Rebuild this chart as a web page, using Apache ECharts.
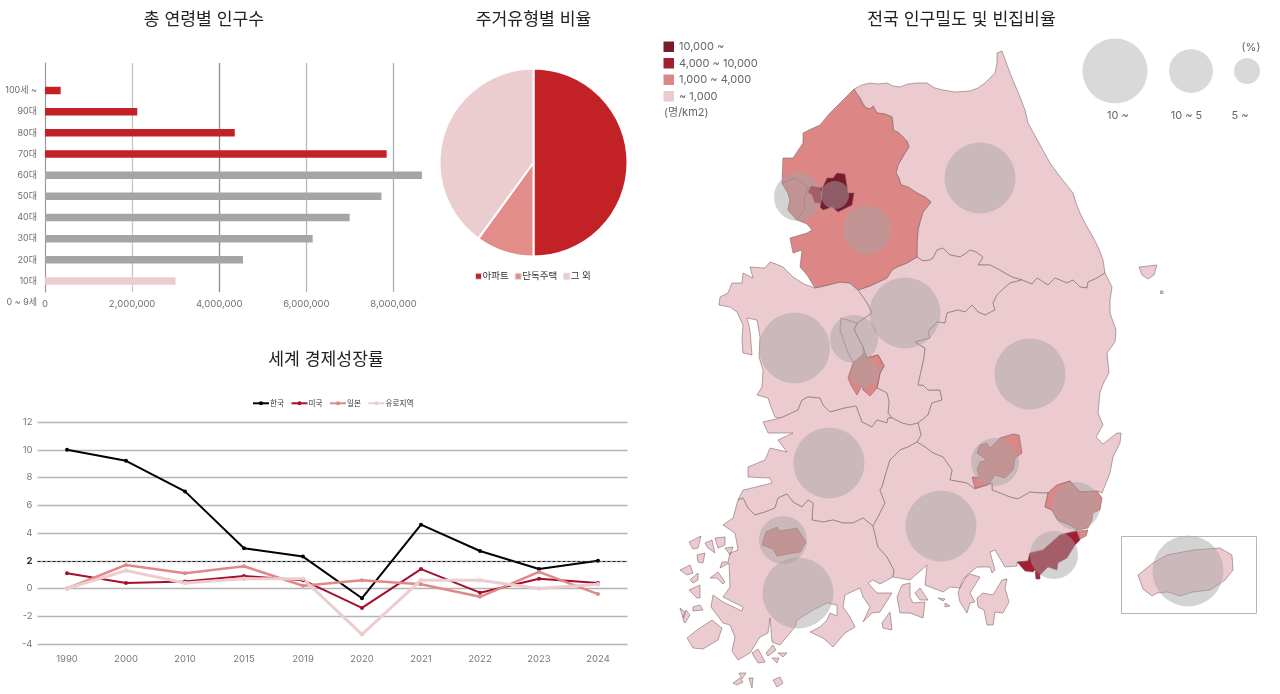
<!DOCTYPE html>
<html><head><meta charset="utf-8">
<style>html,body{margin:0;padding:0;background:#fff}#c{width:1280px;height:694px}</style>
<script src="https://cdn.jsdelivr.net/npm/echarts@6/dist/echarts.min.js"></script>
</head><body><div id="c"></div>
<script>
const FONT = 'Inter, "Noto Sans CJK KR", sans-serif';

// ---- age population ----
const ageLabels = ['', '100세 ~', '90대', '80대', '70대', '60대', '50대', '40대', '30대', '20대', '10대', '0 ~ 9세'];
const ageValues = [null, 360000, 2120000, 4360000, 7850000, 8660000, 7730000, 7000000, 6150000, 4550000, 3000000, null];
const ageGroups = ['', 'old', 'old', 'old', 'old', 'mid', 'mid', 'mid', 'mid', 'mid', 'young', ''];
const ageTicks = [0, 2000000, 4000000, 6000000, 8000000];

// ---- housing ----
const housingNames = ['아파트', '단독주택', '그 외'];
const housingValues = [50, 10, 40];

// ---- growth ----
const growthYears = ['1990', '2000', '2010', '2015', '2019', '2020', '2021', '2022', '2023', '2024'];
const growthKorea = [10, 9.2, 7, 2.9, 2.3, -0.7, 4.6, 2.7, 1.4, 2.0];
const growthUS = [1.1, 0.4, 0.5, 0.9, 0.6, -1.4, 1.4, -0.3, 0.7, 0.4];
const growthJapan = [0, 1.7, 1.1, 1.6, 0.2, 0.6, 0.3, -0.6, 1.2, -0.4];
const growthEuro = [0, 1.3, 0.4, 0.7, 0.7, -3.3, 0.6, 0.6, 0, 0.3];

// ---- map: shared border lines (map units) ----
const bGyeonggiGangwon = [[854,89],[857,94],[860,98],[863,104],[866,108],[870,109],[873,106],[877,113],[885,114],[892,117],[893,125],[893,130],[899,133],[903,137],[907,141],[909,147],[905,153],[898,165],[896,173],[899,178],[901,185],[908,187],[917,193],[925,197],[931,202],[923,212],[920,222],[918,230],[917,245],[917,257]];
const bGangwonNorth = [[854,89],[862,85],[870,83],[878,84],[887,83],[893,86],[900,87],[908,84],[917,83],[927,83],[935,88],[943,90],[955,92],[970,91],[978,88],[985,83],[990,78],[995,73],[997,63],[997,53],[1002,51],[1006,62],[1010,73],[1015,85],[1020,97],[1025,110],[1028,123],[1039,143],[1050,163],[1061,178],[1073,193],[1076,203],[1080,213],[1086,225],[1093,237],[1099,249],[1103,260],[1105,273]];
const bGangwonSouthE = [[1105,273],[1095,279],[1088,282],[1087,288],[1080,287],[1073,280],[1067,283],[1055,278],[1048,285],[1037,278],[1032,284],[1022,280]];
const bGangwonSouthW = [[1022,280],[1012,277],[1003,272],[996,268],[990,265],[978,265],[983,257],[976,252],[970,250],[965,254],[960,257],[950,255],[943,248],[937,250],[933,258],[930,260],[923,261],[917,257]];
const bChungbukGyeongbuk = [[1022,280],[1010,283],[1003,289],[997,295],[993,303],[995,310],[985,315],[978,312],[972,305],[965,312],[958,310],[947,313],[945,323],[937,322],[928,332],[930,338],[915,342],[925,348],[924,358],[922,367],[918,385],[923,385],[928,390],[940,390],[942,400],[932,403],[928,415],[918,423]];
const bChungbukJeonbuk = [[918,423],[910,425],[902,423],[892,418]];
const bChungbukWest = [[892,418],[888,413],[889,402],[887,393],[877,388],[880,373],[884,366],[878,355],[867,358],[865,353],[863,347],[854,330],[857,323],[872,313],[867,303],[858,290]];
const bGyeonggiChungbuk = [[858,290],[870,286],[887,278],[892,270],[897,267],[907,263],[917,257]];
const bGyeonggiChungnam = [[815,288],[828,285],[840,282],[850,283],[858,290]];
const bChungnamJeonbuk = [[892,418],[888,418],[887,423],[877,420],[872,427],[862,422],[859,414],[856,406],[845,408],[830,412],[823,405],[820,398],[808,397],[802,400],[798,410],[783,417],[780,418]];
const cChungnam = [[780,418],[775,417],[771,407],[768,398],[757,395],[762,387],[763,370],[759,357],[760,337],[757,320],[747,318],[750,330],[752,355],[743,353],[742,340],[743,325],[737,312],[730,307],[719,305],[720,297],[728,293],[732,283],[742,283],[743,273],[753,278],[750,267],[765,268],[770,262],[776,264],[783,267],[788,272],[793,277],[804,284],[815,288]];
const cGyeonggi = [[815,288],[807,275],[800,267],[802,250],[793,253],[790,238],[807,233],[812,230],[807,224],[797,220],[788,210],[790,200],[788,193],[782,183],[783,158],[793,158],[803,143],[803,133],[811,129],[820,125],[830,113],[840,103],[854,89]];
const cGyeongbuk = [[1105,273],[1112,287],[1110,300],[1110,313],[1116,330],[1115,342],[1107,353],[1109,373],[1104,382],[1100,392],[1098,413],[1103,425],[1096,437],[1103,444],[1117,433],[1121,433],[1120,443],[1113,457],[1110,473],[1102,493]];
const bGyeongbukSouth = [[1102,493],[1097,491],[1080,492],[1070,481],[1057,485],[1048,493]];
const bGyeongbukGyeongnam = [[1048,493],[1040,493],[1030,492],[1018,499],[1010,497],[992,490],[992,483],[975,489],[967,483],[950,480],[952,470],[943,457],[933,453],[925,447],[917,442]];
const bTriJunction = [[917,442],[921,435],[918,423]];
const bJeonbukGyeongnam = [[917,442],[908,447],[900,450],[890,460],[886,473],[882,487],[880,490],[885,503],[879,515],[873,526]];
const bJeonbukJeonnam = [[873,526],[863,518],[853,523],[843,523],[833,520],[823,522],[812,520],[813,503],[808,500],[802,507],[793,502],[787,494],[778,498],[775,508],[765,512],[755,515],[748,508],[743,498],[738,500]];
const cJeonbuk = [[738,500],[743,490],[748,489],[772,483],[770,478],[748,477],[748,467],[765,460],[770,448],[787,452],[778,440],[793,433],[768,433],[763,422],[780,418]];
const bJeonnamGyeongnam = [[873,526],[878,547],[887,557],[894,570],[893,577]];
const cJeonnam = [[738,500],[733,518],[723,525],[735,533],[738,550],[730,553],[728,562],[722,562],[720,568],[729,563],[730,587],[723,597],[743,607],[742,611],[723,602],[713,595],[711,607],[723,623],[730,625],[735,637],[732,651],[738,660],[750,653],[760,637],[768,633],[770,618],[772,642],[780,645],[795,627],[797,620],[813,610],[827,603],[837,605],[837,616],[830,613],[827,620],[820,627],[810,632],[823,638],[833,647],[845,633],[855,627],[850,617],[843,607],[845,595],[860,588],[863,597],[870,607],[863,622],[872,613],[880,612],[892,593],[877,593],[868,583],[873,580],[880,584],[893,577]];
const cGyeongnam = [[893,577],[910,580],[927,565],[925,585],[943,592],[950,587],[960,588],[967,575],[977,567],[990,567],[992,573],[995,570],[990,552],[995,550],[1005,567],[1017,566],[1017,562],[1028,561],[1030,553],[1043,550],[1060,535],[1068,533],[1078,530],[1070,525],[1058,520],[1052,510],[1045,507],[1048,493]];

const islandsJeonnam = [
  [[689,542],[701,536],[698,548],[693,549]],[[705,543],[712,540],[713,545],[715,553],[708,548]],[[715,538],[725,537],[725,545],[718,548]],
  [[725,548],[733,547],[730,555]],[[697,555],[705,553],[703,563],[698,562]],[[680,570],[690,565],[693,573],[687,575]],
  [[690,580],[698,573],[698,580],[693,583]],[[689,590],[700,585],[700,598],[697,598]],[[693,607],[700,605],[703,610],[693,611]],
  [[710,578],[718,572],[725,582],[723,584],[717,578]],[[680,608],[685,612],[683,618]],[[686,610],[690,615],[685,623],[683,620]],
  [[687,638],[697,630],[712,620],[722,628],[718,640],[703,649],[693,648]],[[752,653],[758,649],[765,662],[758,663]],
  [[766,653],[773,645],[776,650],[768,656]],[[778,653],[787,653],[783,657]],[[772,658],[779,658],[777,663]],
  [[733,683],[740,678],[743,682],[737,685]],[[739,673],[746,673],[742,679]],[[749,678],[753,678],[752,688]],[[773,680],[780,677],[783,683],[777,687]]
];
const islandsGyeongnam = [
  [[897,597],[902,585],[910,583],[910,597],[913,603],[925,602],[923,618],[910,613],[900,613]],
  [[915,593],[920,588],[928,600],[920,600]],[[882,623],[890,612],[892,630],[883,628]],
  [[938,598],[945,599],[943,601]],[[945,603],[950,606],[945,607]],
  [[963,579],[970,574],[980,577],[970,593],[975,602],[970,603],[967,613],[960,602],[958,593]],
  [[977,598],[983,593],[993,595],[1002,580],[1007,579],[1005,588],[1009,602],[1003,613],[995,612],[993,625],[987,625],[984,610],[978,607]]
];
const islandsGyeongbuk = [[[1139,267],[1157,265],[1154,275],[1148,279],[1142,275]],[[1160.5,291],[1163,291],[1163,293.5],[1160.5,293.5]]];
const cJeju = [[1138,575],[1153,563],[1167,555],[1193,550],[1220,548],[1232,555],[1233,570],[1225,580],[1210,590],[1193,592],[1180,596],[1168,592],[1157,593],[1152,596],[1143,589]];
const cSeoul = [[820,207],[823,187],[827,178],[833,178],[837,173],[845,174],[848,193],[854,193],[852,205],[838,212],[832,207],[823,210]];
const cBucheon = [[808,192],[811,186],[822,188],[821,203],[815,203],[812,195]];
const cIncheon = [[782,183],[795,178],[808,187],[804,200],[805,208],[797,220],[788,210],[790,200],[788,193]];
const cSejong = [[841,318],[857,323],[854,330],[863,347],[863,358],[853,362],[848,353],[840,330]];
const cDaejeon = [[865,353],[867,358],[878,355],[884,366],[880,373],[877,388],[870,396],[863,390],[862,385],[857,395],[851,385],[848,378],[853,363]];
const cDaegu = [[1000,438],[1013,434],[1019,435],[1022,453],[1015,458],[1013,470],[1005,478],[995,475],[988,485],[975,488],[972,477],[980,477],[977,470],[980,462],[987,460],[977,453],[980,445],[987,443],[990,448]];
const cGwangju = [[762,545],[766,532],[777,527],[780,531],[797,528],[806,542],[800,552],[777,556],[773,549]];
const cUlsan = [[1048,493],[1057,485],[1070,481],[1080,492],[1097,491],[1102,498],[1100,510],[1093,513],[1092,520],[1088,528],[1078,530],[1070,525],[1058,520],[1052,510],[1045,507]];
const cUlsanSouth = [[1078,531],[1088,530],[1086,536],[1080,539]];
const cBusan = [[1017,562],[1028,561],[1030,553],[1043,550],[1060,535],[1068,533],[1077,531],[1080,540],[1075,545],[1067,558],[1058,563],[1057,570],[1048,567],[1038,577],[1035,570],[1033,572],[1025,571]];
const cBusanIsle = [[1035,572],[1040,575],[1040,579],[1036,579]];

// ---- density per region (persons/km2) ----
const regionNames = ['강원','충북','충남','경기','경북','전북','전남','경남','제주','세종','대전','인천','부천','서울','대구','광주','울산','부산'];
const regionDensity = [90,220,270,1330,130,220,140,310,360,770,2700,2800,5000,15500,2700,2700,1050,4300];

// ---- vacancy bubbles ----
const bubbleNames = ['강원','인천','서울','경기','충북','충남','세종','대전','경북','대구','전북','경남','광주','전남','울산','부산','제주'];
const bubbleLon = [980,798,835,867,905,794.5,854,865,1030,995,829,941,783,798,1076,1054,1188];
const bubbleLat = [-178,-197,-195,-230,-313,-348,-339,-373,-374,-462,-463,-526,-540,-593,-506,-555,-571];
const bubbleRate = [12,7,3,7,12,12,7,3,12,7,12,12,7,12,7,7,12];
const keyLabels = ['10 ~', '10 ~ 5', '5 ~'];
const keyLon = [1115,1191,1247];
const keyLat = [-71,-71,-71];
const keyRate = [12,7,3];

const densityKeys = ['10,000 ~', '4,000 ~ 10,000', '1,000 ~ 4,000', '~ 1,000'];
const densityColors = ['#7a1a2f', '#a51d32', '#dd8686', '#ebcbcf'];
const RED = '#c22126', GREY = '#a5a5a4', PALE = '#ebcdd0', CORAL = '#e38d8b';

function colorOf(d){ return d>=10000?densityColors[0]:d>=4000?densityColors[1]:d>=1000?densityColors[2]:densityColors[3]; }
function join(){ let out=[]; for(const a of arguments){ const s=(out.length&&a.length&&out[out.length-1][0]===a[0][0]&&out[out.length-1][1]===a[0][1])?a.slice(1):a; out=out.concat(s);} return out; }
const rev = a => a.slice().reverse();
const ring = pts => { const r=pts.map(p=>[p[0],-p[1]]); r.push(r[0].slice()); return [r]; };

const shapes = {
 '강원':[join(bGangwonNorth,bGangwonSouthE,bGangwonSouthW,rev(bGyeonggiGangwon))],
 '충북':[join(bGangwonSouthW,rev(bGyeonggiChungbuk),rev(bChungbukWest),rev(bChungbukJeonbuk),rev(bChungbukGyeongbuk))],
 '충남':[join(bGyeonggiChungnam,rev(bChungbukWest),bChungnamJeonbuk,cChungnam)],
 '경기':[join(bGyeonggiGangwon,rev(bGyeonggiChungbuk),rev(bGyeonggiChungnam),cGyeonggi)],
 '경북':[join(cGyeongbuk,bGyeongbukSouth,bGyeongbukGyeongnam,bTriJunction,rev(bChungbukGyeongbuk),rev(bGangwonSouthE))].concat(islandsGyeongbuk),
 '전북':[join(rev(bChungnamJeonbuk),rev(bChungbukJeonbuk),rev(bTriJunction),bJeonbukGyeongnam,bJeonbukJeonnam,cJeonbuk)],
 '전남':[join(bJeonbukJeonnam.slice().reverse(),bJeonnamGyeongnam,rev(cJeonnam))].concat(islandsJeonnam),
 '경남':[join(bJeonbukGyeongnam,bJeonnamGyeongnam,cGyeongnam,bGyeongbukGyeongnam)].concat(islandsGyeongnam),
 '제주':[cJeju],'세종':[cSejong],'대전':[cDaejeon],'인천':[cIncheon],'부천':[cBucheon],'서울':[cSeoul],
 '대구':[cDaegu],'광주':[cGwangju],'울산':[cUlsan,cUlsanSouth],'부산':[cBusan,cBusanIsle]
};
const geoJson = {type:'FeatureCollection',features:regionNames.map(n=>({type:'Feature',properties:{name:n},geometry:{type:'MultiPolygon',coordinates:shapes[n].map(ring)}}))};
echarts.registerMap('korea', geoJson);

const mapBubbleSize = v => { const r=v[2]; return r>=10?71:r>=5?48:28; };
const keyBubbleSize = v => { const r=v[2]; return r>=10?65:r>=5?44:26; };
const grayBubble = {color:'rgba(165,162,162,0.6)',borderWidth:0};

const chart = echarts.init(document.getElementById('c'), null, {renderer:'canvas'});
const titleStyle = {fontFamily:FONT,fontSize:17.2,fontWeight:400,color:'#222'};
const mkTitle = (text,x,y)=>({text,left:x,top:y,textAlign:'center',textStyle:titleStyle,padding:0});
const gText = (text,x,y,align)=>({type:'text',x,y,silent:true,z:10,style:{text,x:0,y:0,align:align||'left',verticalAlign:'middle',font:'11px '+FONT,fill:'#666'}});

chart.setOption({
 animation:false,
 backgroundColor:'#fff',
 textStyle:{fontFamily:FONT},
 title:[mkTitle('총 연령별 인구수',204,11),mkTitle('주거유형별 비율',533.5,11),mkTitle('세계 경제성장률',326,351),mkTitle('전국 인구밀도 및 빈집비율',961.5,11)],
 legend:[
  {data:housingNames,left:475,top:271.5,itemWidth:6,itemHeight:6,itemGap:6,icon:'rect',padding:0,textStyle:{fontFamily:FONT,fontSize:9.5,color:'#333',padding:[0,0,0,-4]},itemStyle:{borderColor:'#ddd',borderWidth:1}},
  {data:['한국','미국','일본','유로지역'],left:252,top:399.5,itemWidth:16,itemHeight:5,itemGap:6.5,padding:0,textStyle:{fontFamily:FONT,fontSize:7.6,color:'#333',padding:[0,0,0,-4]}}
 ],
 grid:[
  {left:45,top:58.75,width:383,height:254,containLabel:false},
  {left:45,top:63,width:383.3,height:229},
  {left:37.5,top:422,width:590,height:222}
 ],
 xAxis:[
  {gridIndex:0,type:'value',min:0,max:8800000,show:false},
  {gridIndex:1,type:'value',min:0,max:8800000,interval:2000000,
   axisLine:{show:false},axisTick:{show:false},
   axisLabel:{margin:7,showMaxLabel:false,fontFamily:FONT,fontSize:9.5,color:'#6e6e6e',formatter:v=>ageTicks.includes(v)?v.toLocaleString('en-US'):''},
   splitLine:{show:true,showMinLine:false,showMaxLine:false,lineStyle:{width:1.3,color:['#c6c6c6','#8f8f8f','#b8b8b8','#b0b0b0']}}},
  {gridIndex:2,type:'category',data:growthYears,boundaryGap:true,axisLine:{show:false},axisTick:{show:false},
   axisLabel:{margin:10,fontFamily:FONT,fontSize:9.5,color:'#777'}}
 ],
 yAxis:[
  {gridIndex:0,type:'category',data:ageLabels,inverse:true,axisLine:{show:false},axisTick:{show:false},
   axisLabel:{margin:8,fontFamily:FONT,fontSize:9,color:'#6e6e6e'}},
  {gridIndex:1,type:'value',min:0,max:1,axisLabel:{show:false},axisTick:{show:false},splitLine:{show:false},
   axisLine:{show:true,lineStyle:{color:'#999',width:1.2}}},
  {gridIndex:2,type:'value',min:-4,max:12,interval:2,axisLine:{show:false},axisTick:{show:false},
   axisLabel:{margin:5,fontFamily:FONT,fontSize:9.5,color:'#777',
     formatter:v=>v===2?'{b|2}':String(v),rich:{b:{fontFamily:FONT,fontSize:9.5,fontWeight:700,color:'#333'}}},
   splitLine:{show:true,lineStyle:{color:'#b4b4b4',width:1.3}}}
 ],
 geo:{
  map:'korea',silent:true,roam:false,aspectScale:1,
  boundingCoords:[[650,0],[1280,-694]],
  left:650,top:0,width:630,height:694,
  label:{show:false},
  itemStyle:{areaColor:densityColors[3],borderColor:'#7a5f62',borderWidth:0.55},
  regions:regionNames.map((n,i)=>({name:n,silent:true,itemStyle:{areaColor:colorOf(regionDensity[i])}})),
  emphasis:{disabled:true},select:{disabled:true}
 },
 series:[
  {type:'bar',xAxisIndex:0,yAxisIndex:0,barWidth:7.5,silent:true,
   data:ageValues.map((v,i)=>({value:v,itemStyle:{color:ageGroups[i]==='old'?RED:ageGroups[i]==='young'?PALE:GREY}}))},
  {type:'pie',center:[533.5,162.5],radius:[0,94],startAngle:90,silent:true,label:{show:false},labelLine:{show:false},
   itemStyle:{borderColor:'#fff',borderWidth:2},
   color:[RED,CORAL,PALE],
   data:housingNames.map((n,i)=>({name:n,value:housingValues[i]}))},
  {type:'line',name:'한국',xAxisIndex:2,yAxisIndex:2,data:growthKorea,color:'#000',symbol:'circle',symbolSize:4,lineStyle:{width:2},silent:true,
   markLine:{silent:true,symbol:'none',label:{show:false},lineStyle:{color:'#222',type:[3,2],width:1},data:[{yAxis:2}]}},
  {type:'line',name:'미국',xAxisIndex:2,yAxisIndex:2,data:growthUS,color:'#a50f2d',symbol:'circle',symbolSize:4,lineStyle:{width:2},silent:true},
  {type:'line',name:'일본',xAxisIndex:2,yAxisIndex:2,data:growthJapan,color:'#e08888',symbol:'circle',symbolSize:4,lineStyle:{width:2.5},silent:true},
  {type:'line',name:'유로지역',xAxisIndex:2,yAxisIndex:2,data:growthEuro,color:'#ebcdd0',symbol:'circle',symbolSize:4.5,lineStyle:{width:3},silent:true},
  {type:'scatter',name:'빈집비율',coordinateSystem:'geo',silent:true,symbolSize:mapBubbleSize,itemStyle:grayBubble,z:5,
   data:bubbleNames.map((n,i)=>({name:n,value:[bubbleLon[i],bubbleLat[i],bubbleRate[i]]}))},
  {type:'scatter',name:'범례',coordinateSystem:'geo',silent:true,symbolSize:keyBubbleSize,itemStyle:{color:'#cfcfcf',borderWidth:0},z:5,
   data:keyLabels.map((n,i)=>({name:n,value:[keyLon[i],keyLat[i],keyRate[i]]}))}
 ],
 graphic:[
  ...densityKeys.map((k,i)=>({type:'rect',silent:true,z:10,shape:{x:663.5,y:[41.5,58,74.5,91][i],width:10.5,height:10.5},style:{fill:densityColors[i]}})),
  ...densityKeys.map((k,i)=>gText(k,679,[47,63.5,80,96.5][i])),
  gText('(명/km2)',664,113),
  gText('10 ~',1118,116,'center'),gText('10 ~ 5',1186.5,116,'center'),gText('5 ~',1240,116,'center'),gText('(%)',1251,48,'center'),
  {type:'rect',silent:true,z:1,shape:{x:1121.5,y:536.5,width:135,height:77},style:{fill:'none',stroke:'#b5b5b5',lineWidth:1}}
 ]
});
</script></body></html>
